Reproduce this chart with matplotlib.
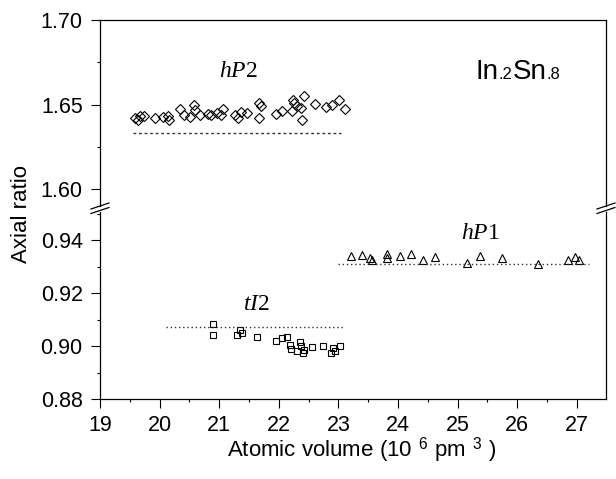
import matplotlib
matplotlib.use("Agg")
import matplotlib.pyplot as plt
from matplotlib.lines import Line2D
from matplotlib.ticker import MultipleLocator
from matplotlib.offsetbox import TextArea, HPacker, AnnotationBbox

plt.rcParams['font.family'] = ['Liberation Sans', 'DejaVu Sans']
plt.rcParams['mathtext.fontset'] = 'custom'
plt.rcParams['mathtext.rm'] = 'Liberation Sans'
plt.rcParams['mathtext.it'] = 'Liberation Serif:italic'

# hP2 (diamonds, upper panel)
hp2_x = [19.59, 19.67, 19.63, 19.74, 19.93, 20.05, 20.14, 20.16, 20.34, 20.41,
         20.58, 20.59, 20.51, 20.68, 20.81, 20.86, 20.96, 21.07, 21.03, 21.27,
         21.37, 21.32, 21.46, 21.66, 21.70, 21.66, 21.96, 22.05, 22.24, 22.26,
         22.22, 22.30, 22.37, 22.43, 22.39, 22.60, 22.80, 22.90, 23.01, 23.11]
hp2_y = [1.6422, 1.6431, 1.6406, 1.6435, 1.6422, 1.6425, 1.6431, 1.6406, 1.6471, 1.6441,
         1.6496, 1.6465, 1.6428, 1.6441, 1.6445, 1.6441, 1.6451, 1.6471, 1.6437, 1.6441,
         1.6457, 1.6422, 1.6451, 1.6510, 1.6490, 1.6422, 1.6445, 1.6461, 1.6529, 1.6510,
         1.6461, 1.6490, 1.6481, 1.6549, 1.6406, 1.6504, 1.6484, 1.6496, 1.6524, 1.6471]
hp2_ref_x = [19.55, 23.05]
hp2_ref_y = [1.633, 1.633]

# tI2 (squares, lower panel)
ti2_x = [20.90, 20.90, 21.30, 21.35, 21.38, 21.63, 21.96, 22.05, 22.14, 22.19,
         22.36, 22.38, 22.55, 22.75, 22.91, 23.03, 22.30, 22.40, 22.20, 22.42,
         22.88, 22.95]
ti2_y = [0.9082, 0.9042, 0.9042, 0.9060, 0.9048, 0.9035, 0.9019, 0.9029, 0.9035, 0.9004,
         0.9016, 0.9000, 0.8995, 0.9000, 0.8991, 0.9000, 0.8980, 0.8972, 0.8990, 0.8985,
         0.8972, 0.8980]
ti2_ref_x = [20.1, 23.1]
ti2_ref_y = [0.907, 0.907]

# hP1 (triangles, lower panel)
hp1_x = [23.21, 23.39, 23.53, 23.56, 23.81, 23.82, 24.03, 24.21, 24.42, 24.62,
         25.15, 25.38, 25.74, 26.35, 26.86, 26.97, 27.03]
hp1_y = [0.9340, 0.9343, 0.9331, 0.9325, 0.9347, 0.9331, 0.9340, 0.9347, 0.9325, 0.9335,
         0.9314, 0.9340, 0.9331, 0.9309, 0.9325, 0.9337, 0.9325]
hp1_ref_x = [23.0, 27.2]
hp1_ref_y = [0.931, 0.931]

W, H = 616, 479
fig = plt.figure(figsize=(W / 100, H / 100), dpi=100)


def fx(px):
    return px / W


def fy(py):
    return 1 - py / H


ax_top = fig.add_axes([fx(100), fy(206), fx(606) - fx(100), fy(20) - fy(206)])
ax_bot = fig.add_axes([fx(100), fy(399), fx(606) - fx(100), fy(212) - fy(399)])

mk = dict(mfc='none', mec='black', mew=0.8, ls='none')
ax_top.plot(hp2_x, hp2_y, marker='D', ms=5, **mk)
ax_top.plot(hp2_ref_x, hp2_ref_y, ls=(0, (2, 2)), color='#333333', lw=1)

ax_bot.plot(ti2_x, ti2_y, marker='s', ms=5, **mk)
ax_bot.plot(ti2_ref_x, ti2_ref_y, ls=(0, (1, 2)), color='#333333', lw=1)
ax_bot.plot(hp1_x, hp1_y, marker='^', ms=6, **mk)
ax_bot.plot(hp1_ref_x, hp1_ref_y, ls=(0, (1, 2)), color='#333333', lw=1)

for ax in (ax_top, ax_bot):
    ax.set_xlim(19, 27.49)
    ax.tick_params(which='both', direction='out', width=0.8, labelsize=15.5, right=False, top=False)
    ax.tick_params(which='major', length=6.5)
    ax.tick_params(which='minor', length=2.5)
    ax.tick_params(axis='y', pad=6)
    ax.tick_params(axis='x', pad=5)
    ax.xaxis.set_major_locator(MultipleLocator(1))
    ax.xaxis.set_minor_locator(MultipleLocator(0.5))
    for s in ax.spines.values():
        s.set_linewidth(0.9)

ax_top.set_ylim(1.59, 1.70)
ax_top.yaxis.set_major_locator(MultipleLocator(0.05))
ax_top.yaxis.set_minor_locator(MultipleLocator(0.025))
ax_top.spines['bottom'].set_visible(False)
ax_top.tick_params(which='both', bottom=False, labelbottom=False)
ax_top.yaxis.set_major_formatter(lambda v, p: f"{v:.2f}")

ax_bot.set_ylim(0.88, 0.9506)
ax_bot.yaxis.set_major_locator(MultipleLocator(0.02))
ax_bot.yaxis.set_minor_locator(MultipleLocator(0.01))
ax_bot.spines['top'].set_visible(False)
ax_bot.yaxis.set_major_formatter(lambda v, p: f"{v:.2f}")

# break marks on both vertical spines
for xc in (100, 606):
    for yc in (206, 210.5):
        fig.add_artist(Line2D([fx(xc - 9), fx(xc + 9)], [fy(yc + 3), fy(yc - 3)],
                              transform=fig.transFigure, color='black', lw=0.9))

ax_top.text(21.32, 1.6694, r"$\mathit{hP}$2", family='Liberation Serif', size=17,
            ha='center', va='center')
ax_bot.text(21.63, 0.9155, r"$\mathit{tI}$2", family='Liberation Serif', size=17,
            ha='center', va='center')
ax_bot.text(25.38, 0.9425, r"$\mathit{hP}$1", family='Liberation Serif', size=17,
            ha='center', va='center')

# composition label: small digits sitting on the baseline
parts = [("In", 20), (".2", 12), ("Sn", 20), (".8", 12)]
box = HPacker(children=[TextArea(t, textprops=dict(size=s)) for t, s in parts],
              align="baseline", pad=0, sep=0)
ax_top.add_artist(AnnotationBbox(box, (26.01, 1.669), frameon=False, box_alignment=(0.5, 0.5)))

fig.text(fx(22), fy(214), "Axial ratio", rotation=90, ha='center', va='center', size=16)
fig.text(fx(362), fy(450), r"Atomic volume (10$^{\ \ 6}$ pm$^{\ \ 3}$ )", ha='center',
         va='center', size=16)

fig.savefig("out.png", dpi=100)
